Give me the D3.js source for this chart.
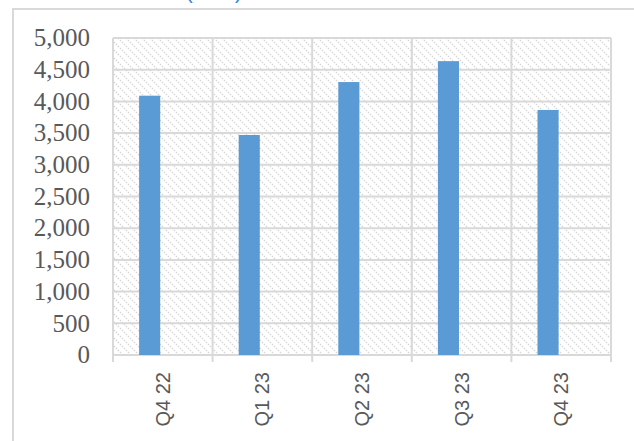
<!DOCTYPE html>
<html><head><meta charset="utf-8">
<script src="https://cdn.jsdelivr.net/npm/d3@7"></script>
<style>html,body{margin:0;padding:0;background:#fff;}svg{display:block;}</style>
</head><body>
<script>
const categories = ["Q4 22", "Q1 23", "Q2 23", "Q3 23", "Q4 23"];
const values = [4090, 3470, 4305, 4635, 3865];
const yTicks = [0, 500, 1000, 1500, 2000, 2500, 3000, 3500, 4000, 4500, 5000];
const titleText = "(USD)";

const W = 634, H = 441;
const m = {left: 113, right: 23, top: 38, bottom: 86};
const svg = d3.select("body").append("svg").attr("width", W).attr("height", H);

const defs = svg.append("defs");
const pat = defs.append("pattern").attr("id", "hatch").attr("patternUnits", "userSpaceOnUse")
  .attr("width", 8).attr("height", 8);
pat.append("rect").attr("width", 8).attr("height", 8).attr("fill", "#fff");
pat.append("path").attr("d", "M-2,-2 L10,10 M-2,6 L2,10 M6,-2 L10,2")
  .attr("stroke", "#d6d6d6").attr("stroke-width", 1.3).attr("stroke-dasharray", "1.5,1.3");

// outer chart border
svg.append("path").attr("d", `M13,${H + 5} L13,9 L${W + 5},9`)
  .attr("fill", "none").attr("stroke", "#d9d9d9").attr("stroke-width", 2);

// cut-off title
svg.append("text").attr("x", 186).attr("y", -1).attr("font-family", "Liberation Sans, Arial")
  .attr("font-size", 20).attr("fill", "#2e86d8").text(titleText);

const x = d3.scaleBand().domain(categories).range([m.left, W - m.right]);
const y = d3.scaleLinear().domain([0, 5000]).range([H - m.bottom, m.top]);

const g = svg.append("g");
g.append("rect").attr("x", m.left).attr("y", m.top)
  .attr("width", W - m.right - m.left).attr("height", H - m.bottom - m.top)
  .attr("fill", "url(#hatch)");

// horizontal gridlines
g.selectAll(".hg").data(yTicks).enter().append("line")
  .attr("x1", m.left).attr("x2", W - m.right)
  .attr("y1", d => y(d)).attr("y2", d => y(d))
  .attr("stroke", "#d9d9d9").attr("stroke-width", 2);

// vertical gridlines at band boundaries
const bounds = categories.map(c => x(c)).concat([x(categories[categories.length - 1]) + x.bandwidth()]);
g.selectAll(".vg").data(bounds).enter().append("line")
  .attr("x1", d => d).attr("x2", d => d)
  .attr("y1", m.top).attr("y2", y(0) + 7)
  .attr("stroke", "#d9d9d9").attr("stroke-width", 2);

// bars
g.selectAll(".bar").data(values).enter().append("rect")
  .attr("x", (d, i) => x(categories[i]) + x.bandwidth() * 0.262)
  .attr("width", x.bandwidth() * 0.212)
  .attr("y", d => y(d)).attr("height", d => y(0) - y(d))
  .attr("fill", "#5b9bd5");

// y-axis labels
const fmt = d3.format(",");
g.selectAll(".yl").data(yTicks).enter().append("text")
  .attr("x", 90).attr("y", d => y(d)).attr("dy", "0.33em")
  .attr("text-anchor", "end").attr("font-family", "Liberation Serif, Times New Roman")
  .attr("font-size", 25).attr("fill", "#595959").text(d => fmt(d));

// x-axis labels
g.selectAll(".xl").data(categories).enter().append("text")
  .attr("transform", d => `translate(${x(d) + x.bandwidth() / 2 + 7},${y(0) + 17}) rotate(-90)`)
  .attr("text-anchor", "end").attr("font-family", "Liberation Sans, Arial")
  .attr("font-size", 20).attr("fill", "#595959").text(d => d);
</script>
</body></html>
